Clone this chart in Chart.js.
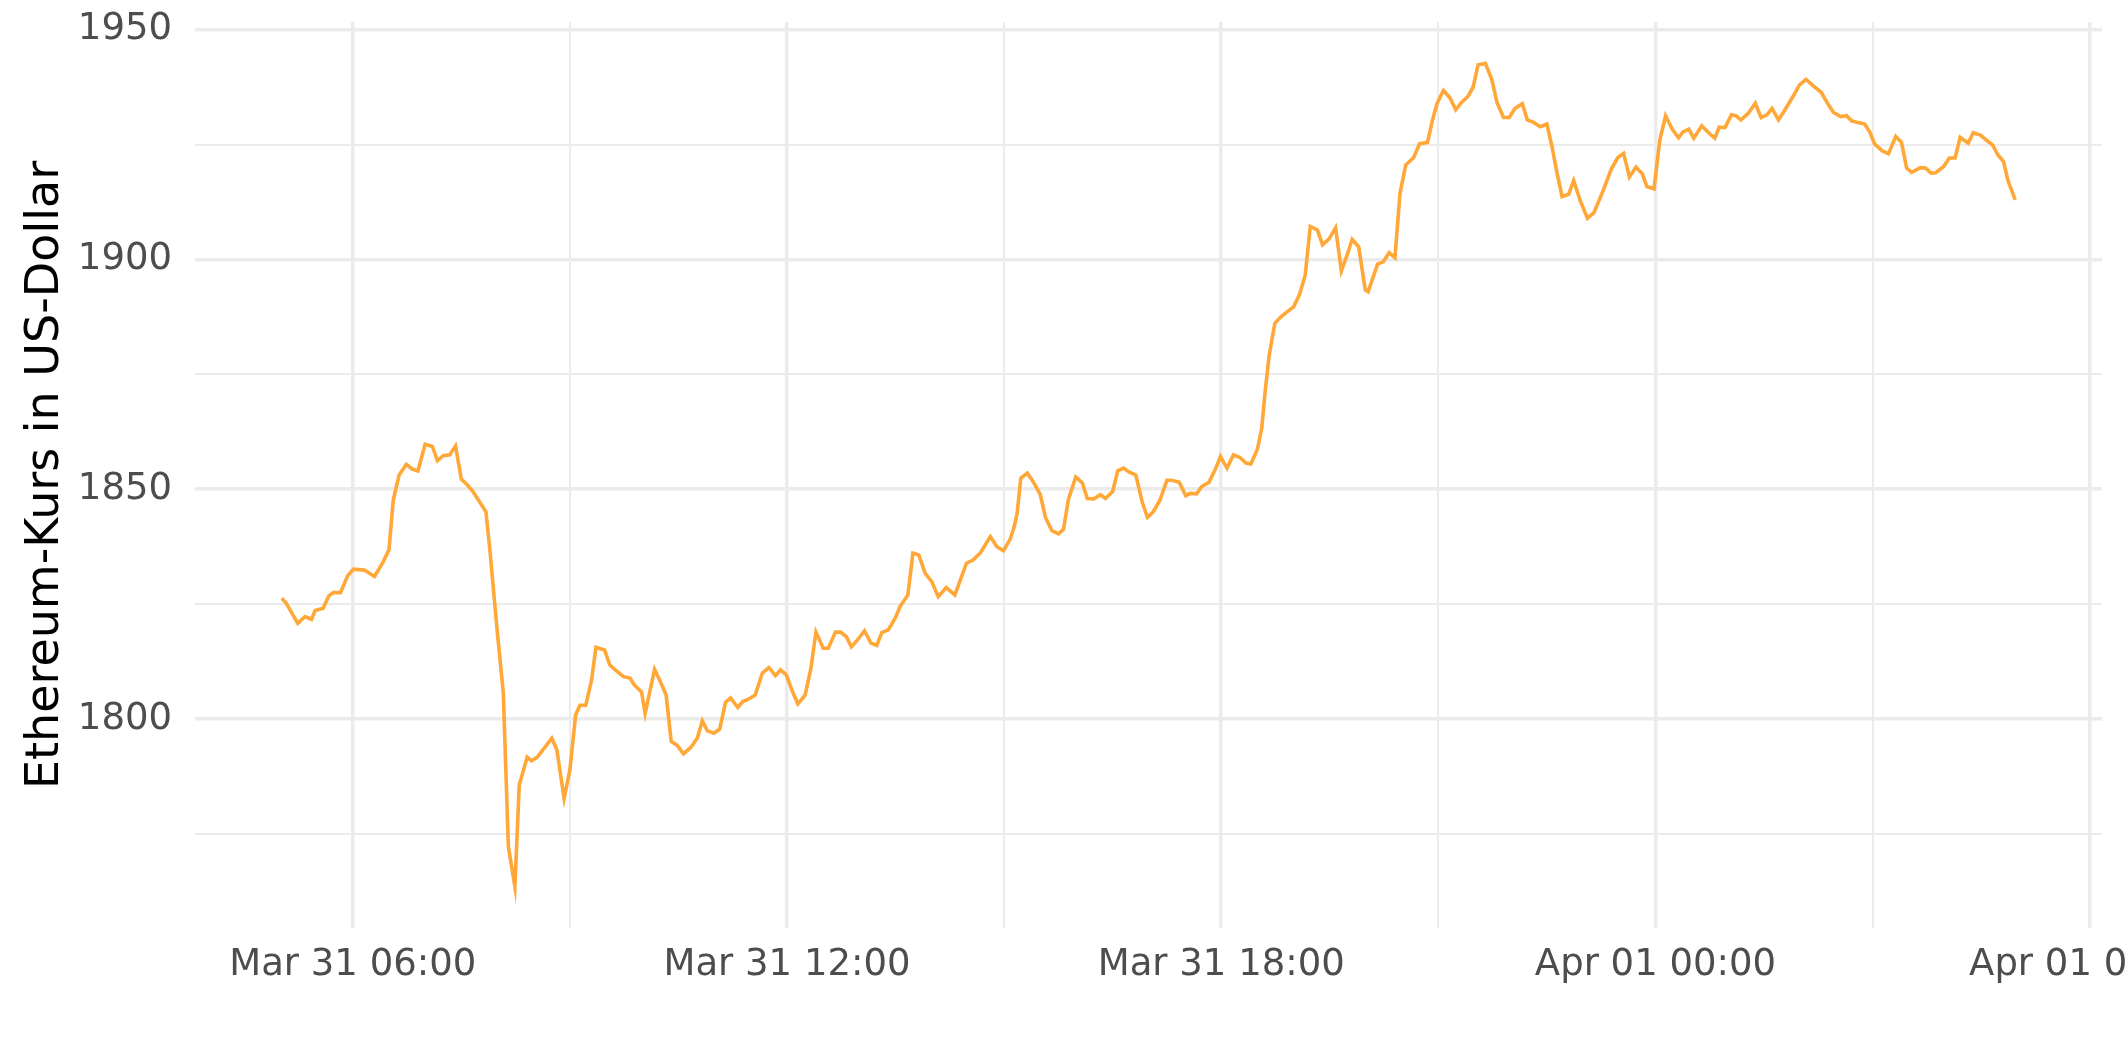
<!DOCTYPE html>
<html>
<head>
<meta charset="utf-8">
<script src="https://cdn.jsdelivr.net/npm/chart.js@4.4.0/dist/chart.umd.min.js"></script>
<style>
  html, body { margin: 0; padding: 0; background: #fff; }
  #wrap { width: 2125px; height: 1062px; }
</style>
</head>
<body>
<div id="wrap"><canvas id="chart" width="2125" height="1062"></canvas></div>
<script>
// hours since Mar 31 00:00
const hours = [
  5.02, 5.08, 5.24, 5.34, 5.43, 5.48, 5.59, 5.67, 5.73, 5.83, 5.93, 6.01, 6.16, 6.30, 6.42, 6.50,
  6.56, 6.64, 6.74, 6.82, 6.90, 7.00, 7.10, 7.17, 7.25, 7.34, 7.42, 7.50, 7.59, 7.66, 7.75, 7.84,
  7.89, 7.99, 8.08, 8.15, 8.24, 8.30, 8.41, 8.47, 8.55, 8.75, 8.82, 8.92, 9.00, 9.08, 9.14, 9.22,
  9.30, 9.36, 9.48, 9.55, 9.64, 9.74, 9.83, 9.89, 9.99, 10.04, 10.17, 10.25, 10.33, 10.40, 10.48,
  10.57, 10.67, 10.76, 10.83, 10.90, 10.99, 11.07, 11.15, 11.22, 11.32, 11.39, 11.49, 11.56, 11.66,
  11.75, 11.84, 11.91, 11.99, 12.08, 12.15, 12.25, 12.33, 12.40, 12.50, 12.57, 12.67, 12.74, 12.82,
  12.89, 12.98, 13.07, 13.16, 13.24, 13.31, 13.40, 13.50, 13.56, 13.67, 13.74, 13.82, 13.91, 14.00,
  14.09, 14.20, 14.32, 14.48, 14.57, 14.67, 14.81, 14.90, 14.99, 15.08, 15.14, 15.18, 15.23, 15.32,
  15.40, 15.50, 15.57, 15.66, 15.75, 15.82, 15.89, 15.99, 16.08, 16.15, 16.24, 16.33, 16.40, 16.50,
  16.57, 16.65, 16.73, 16.82, 16.91, 16.98, 17.06, 17.15, 17.25, 17.33, 17.42, 17.51, 17.57, 17.66,
  17.73, 17.83, 17.92, 17.99, 18.08, 18.17, 18.26, 18.34, 18.41, 18.50, 18.56, 18.60, 18.66, 18.74,
  18.83, 18.90, 19.00, 19.08, 19.16, 19.23, 19.33, 19.40, 19.49, 19.58, 19.66, 19.74, 19.81, 19.90,
  19.99, 20.03, 20.16, 20.24, 20.32, 20.40, 20.47, 20.55, 20.66, 20.74, 20.85, 20.92, 20.98, 21.07,
  21.16, 21.24, 21.32, 21.41, 21.48, 21.55, 21.65, 21.74, 21.81, 21.90, 21.98, 22.06, 22.16, 22.23,
  22.31, 22.41, 22.50, 22.57, 22.64, 22.71, 22.80, 22.87, 22.96, 23.06, 23.15, 23.28, 23.39, 23.48,
  23.56, 23.64, 23.73, 23.82, 23.88, 23.98, 24.06, 24.14, 24.23, 24.32, 24.38, 24.46, 24.53, 24.64,
  24.72, 24.82, 24.88, 24.96, 25.05, 25.11, 25.18, 25.28, 25.38, 25.46, 25.54, 25.61, 25.70, 25.79,
  25.89, 25.99, 26.08, 26.18, 26.29, 26.37, 26.46, 26.56, 26.64, 26.71, 26.80, 26.89, 26.96, 27.03,
  27.13, 27.22, 27.32, 27.40, 27.47, 27.54, 27.66, 27.73, 27.81, 27.87, 27.98, 28.06, 28.14, 28.21,
  28.32, 28.39, 28.49, 28.58, 28.66, 28.73, 28.81, 28.87, 28.97
];

// ETH price in USD
const prices = [
  1826.3, 1825.2, 1820.8, 1822.3, 1821.7, 1823.6, 1824.1, 1826.8, 1827.5, 1827.5, 1831.2, 1832.6, 1832.4, 1831.0, 1834.2, 1836.8,
  1847.7, 1853.1, 1855.4, 1854.4, 1854.0, 1859.8, 1859.3, 1856.2, 1857.3, 1857.5, 1859.4, 1852.2, 1850.8, 1849.5, 1847.3, 1845.1,
  1837.5, 1820.1, 1805.6, 1772.2, 1763.5, 1785.6, 1791.7, 1790.9, 1791.7, 1795.8, 1793.3, 1782.7, 1788.9, 1800.9, 1803.0, 1803.0,
  1808.5, 1815.6, 1815.0, 1811.8, 1810.5, 1809.2, 1808.9, 1807.4, 1805.9, 1801.2, 1810.8, 1808.1, 1805.2, 1795.1, 1794.3,
  1792.4, 1793.8, 1795.8, 1799.6, 1797.4, 1796.9, 1797.8, 1803.6, 1804.6, 1802.5, 1803.8, 1804.5, 1805.2, 1810.0,
  1811.2, 1809.4, 1810.7, 1809.6, 1805.8, 1803.3, 1805.2, 1811.0, 1818.9, 1815.4, 1815.4, 1818.9, 1818.9, 1817.9,
  1815.7, 1817.3, 1819.2, 1816.5, 1816.0, 1818.8, 1819.4, 1822.1, 1824.4, 1827.0, 1836.1, 1835.7, 1831.7, 1829.9,
  1826.6, 1828.6, 1827.0, 1833.9, 1834.6, 1836.1, 1839.7, 1837.5, 1836.6, 1839.0, 1841.9, 1844.8, 1852.4, 1853.5,
  1851.7, 1848.8, 1843.9, 1841.0, 1840.3, 1841.3, 1847.9, 1852.7, 1851.4, 1848.0, 1847.9, 1848.8, 1848.0, 1849.5,
  1854.0, 1854.6, 1853.7, 1853.1, 1847.1, 1843.9, 1845.1, 1847.5, 1852.0, 1851.9, 1851.5, 1848.6, 1849.1, 1849.0,
  1850.6, 1851.5, 1854.4, 1857.1, 1854.6, 1857.5, 1856.9, 1855.7, 1855.5, 1858.7, 1863.3, 1870.2, 1878.9, 1886.1,
  1887.6, 1888.5, 1889.7, 1892.3, 1896.6, 1907.2, 1906.4, 1903.2, 1904.5, 1906.9, 1897.5, 1901.0, 1904.4, 1902.7,
  1893.4, 1893.0, 1899.0, 1899.5, 1901.5, 1900.4, 1914.4, 1920.6, 1922.2, 1925.2, 1925.5, 1930.4, 1933.9, 1936.8,
  1935.2, 1932.6, 1934.2, 1935.5, 1937.5, 1942.4, 1942.7, 1939.1, 1934.2, 1930.9, 1930.9, 1932.9, 1933.9, 1930.4,
  1929.9, 1928.9, 1929.5, 1924.6, 1918.8, 1913.7, 1914.2, 1917.2, 1912.8, 1909.0, 1910.2, 1915.1, 1919.7, 1922.2,
  1923.1, 1918.0, 1920.1, 1918.6, 1915.9, 1915.4, 1926.0, 1931.3, 1928.4, 1926.5, 1927.8, 1928.4, 1926.4, 1929.1,
  1927.8, 1926.4, 1928.8, 1928.7, 1931.5, 1931.3, 1930.4, 1931.8, 1934.0, 1930.9, 1931.5, 1932.9, 1930.4, 1932.6,
  1935.2, 1938.0, 1939.2, 1937.8, 1936.4, 1934.2, 1932.0, 1931.1, 1931.3, 1930.2, 1929.8, 1929.5, 1927.8, 1925.1,
  1923.7, 1923.0, 1926.8, 1925.5, 1919.9, 1919.0, 1920.0, 1919.9, 1918.8, 1918.9, 1920.2, 1922.1, 1922.1, 1926.6,
  1925.3, 1927.6, 1927.1, 1925.9, 1924.9, 1922.8, 1921.3, 1917.2, 1913.0
];

// x tick labels, every 6 hours
const xTickLabels = {
  6: 'Mar 31 06:00',
  12: 'Mar 31 12:00',
  18: 'Mar 31 18:00',
  24: 'Apr 01 00:00',
  30: 'Apr 01 06:00'
};
const yTickLabels = [1800, 1850, 1900, 1950];

const points = hours.map((h, i) => ({ x: h, y: prices[i] }));

const gridColor = '#EBEBEB';
const tickFont = { family: 'DejaVu Sans', size: 37 };

// keep the panel where ggplot put it
const fixWidth = w => scale => {
  scale.width = w;
  scale.paddingTop = 0; scale.paddingBottom = 0;
  scale.paddingLeft = 0; scale.paddingRight = 0;
};
const fixHeight = h => scale => {
  scale.height = h;
  scale.paddingTop = 0; scale.paddingBottom = 0;
  scale.paddingLeft = 0; scale.paddingRight = 0;
};

new Chart(document.getElementById('chart'), {
  type: 'line',
  data: {
    datasets: [{
      data: points,
      borderColor: 'rgb(255,167,55)',
      borderWidth: 3.6,
      pointRadius: 0,
      tension: 0,
      fill: false
    }]
  },
  options: {
    responsive: false,
    animation: false,
    devicePixelRatio: 1,
    layout: { padding: { top: 22, right: 23, left: 0, bottom: 0 } },
    plugins: { legend: { display: false }, tooltip: { enabled: false } },
    scales: {
      x: {
        type: 'linear',
        min: 3.82,
        max: 30.17,
        afterFit: fixHeight(134),
        border: { display: false },
        grid: {
          color: gridColor,
          drawTicks: false,
          lineWidth: ctx => (ctx.tick && ctx.tick.value % 6 === 0) ? 3.5 : 2
        },
        ticks: {
          stepSize: 3,
          includeBounds: false,
          autoSkip: false,
          maxRotation: 0,
          padding: 15,
          color: '#4D4D4D',
          font: tickFont,
          callback: v => xTickLabels[v] || ''
        }
      },
      y: {
        type: 'linear',
        min: 1754.5,
        max: 1951.7,
        afterFit: fixWidth(195),
        border: { display: false },
        title: {
          display: true,
          text: 'Ethereum-Kurs in US-Dollar',
          color: '#000',
          font: { family: 'DejaVu Sans', size: 46 },
          padding: { top: 18, bottom: 0 }
        },
        grid: {
          color: gridColor,
          drawTicks: false,
          lineWidth: ctx => (ctx.tick && ctx.tick.value % 50 === 0) ? 3.5 : 2
        },
        ticks: {
          stepSize: 25,
          includeBounds: false,
          padding: 23,
          color: '#4D4D4D',
          font: tickFont,
          callback: v => yTickLabels.includes(v) ? String(v) : ''
        }
      }
    }
  }
});
</script>
</body>
</html>
